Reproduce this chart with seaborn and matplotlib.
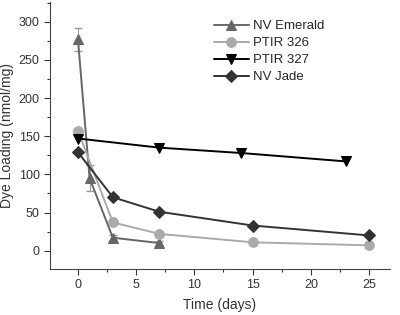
import matplotlib
matplotlib.use("Agg")
import matplotlib.pyplot as plt
import seaborn as sns
import pandas as pd
from matplotlib.ticker import MultipleLocator

sns.set_style("ticks")
plt.rcParams['font.family'] = ['Liberation Sans', 'DejaVu Sans']

emerald_t = [0, 1, 3, 7]
emerald_v = [277, 95, 17, 10]
emerald_err = [15, 17, 3, 3]
p326_t = [0, 3, 7, 15, 25]
p326_v = [157, 37, 22, 11, 7]
p327_t = [0, 7, 14, 23]
p327_v = [147, 135, 128, 117]
jade_t = [0, 3, 7, 15, 25]
jade_v = [129, 70, 51, 33, 20]

series = [
    ("NV Emerald", emerald_t, emerald_v, "^", "#666666"),
    ("PTIR 326", p326_t, p326_v, "o", "#aaaaaa"),
    ("PTIR 327", p327_t, p327_v, "v", "#000000"),
    ("NV Jade", jade_t, jade_v, "D", "#333333"),
]

fig = plt.figure(figsize=(4.0, 3.15), dpi=100)
ax = fig.add_axes([0.125, 0.146, 0.85, 0.848])

ax.errorbar(emerald_t, emerald_v, yerr=emerald_err, fmt="none",
            ecolor="#999999", elinewidth=0.8, capsize=3, zorder=1)

for name, t, v, m, c in series:
    df = pd.DataFrame({"t": t, "v": v})
    ms = 6 if m == "D" else 7
    sns.lineplot(data=df, x="t", y="v", ax=ax, color=c, marker=m,
                 markersize=ms, markeredgecolor=c, linewidth=1.4, label=name)

ax.set_xlim(-2.4, 26.8)
ax.set_ylim(-24, 326)
ax.xaxis.set_major_locator(MultipleLocator(5))
ax.xaxis.set_minor_locator(MultipleLocator(2.5))
ax.yaxis.set_major_locator(MultipleLocator(50))
ax.yaxis.set_minor_locator(MultipleLocator(25))
ax.tick_params(which="major", direction="out", length=4, width=0.8, labelsize=9, colors="#333333")
ax.tick_params(which="minor", direction="out", length=2.5, width=0.8, colors="#333333")
for s in ["top", "right"]:
    ax.spines[s].set_visible(False)
for s in ["left", "bottom"]:
    ax.spines[s].set_color("#444444")
ax.set_xlabel("Time (days)", fontsize=10, color="#333333", labelpad=5)
ax.set_ylabel("Dye Loading (nmol/mg)", fontsize=10, color="#333333", labelpad=3)

leg = ax.legend(loc="upper left", bbox_to_anchor=(0.46, 0.962), frameon=False,
                fontsize=9.5, handlelength=2.6, labelspacing=0.36,
                borderaxespad=0.2, handletextpad=0.3)

fig.savefig("out.png", dpi=100)
